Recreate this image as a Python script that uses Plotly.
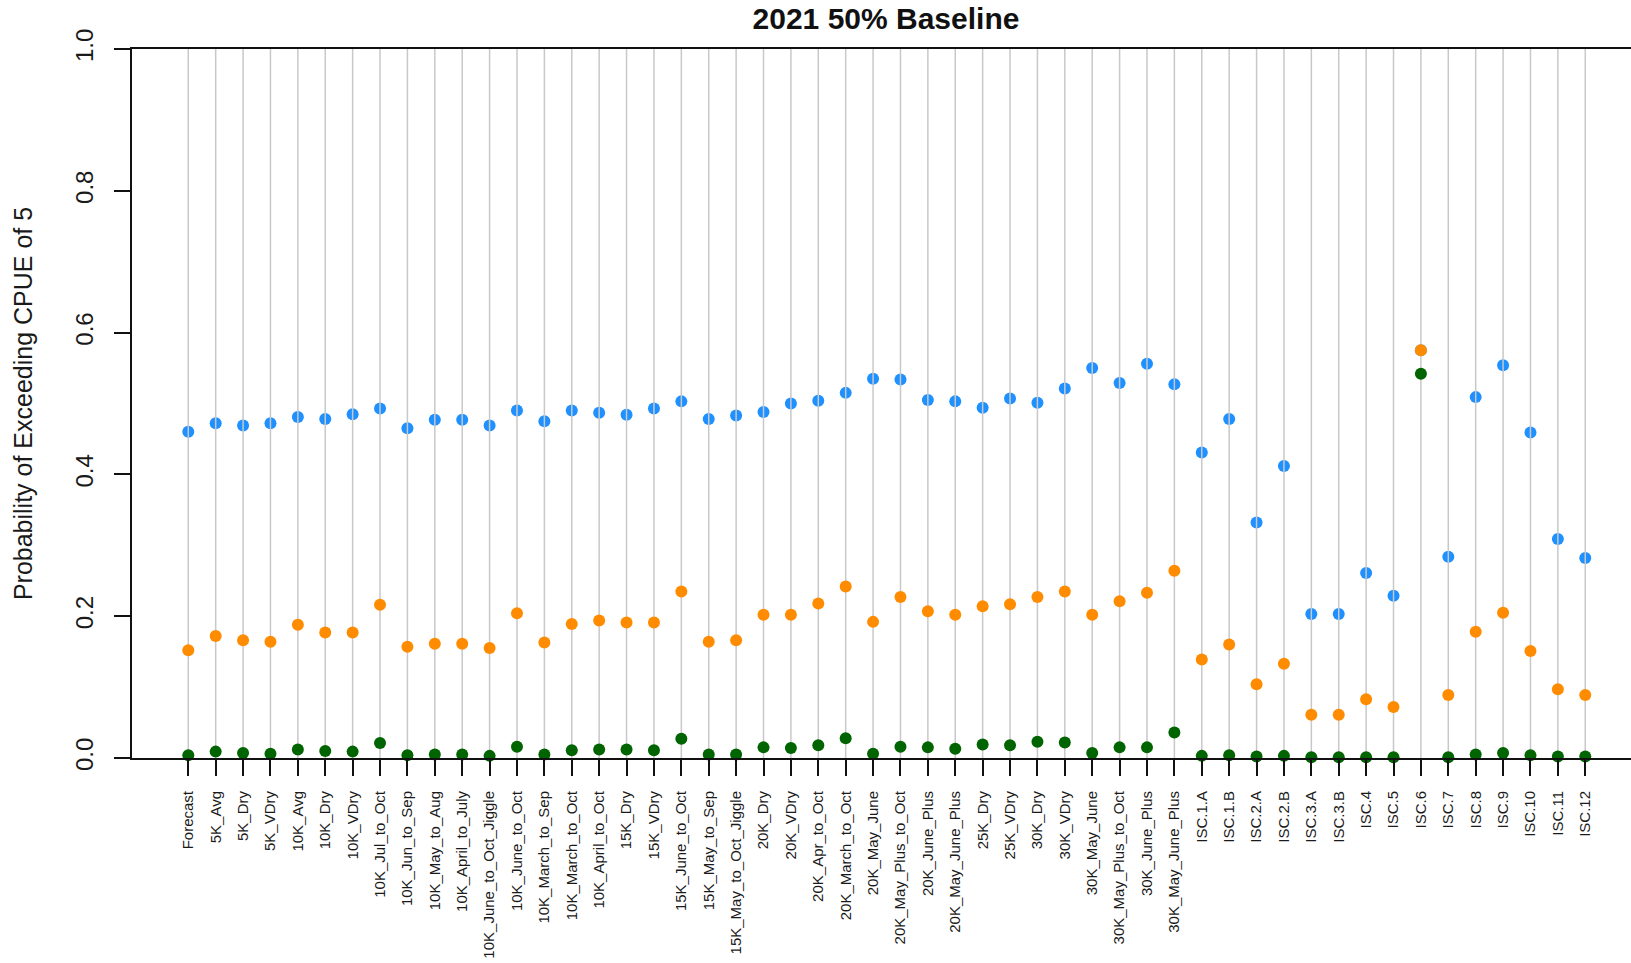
import plotly.graph_objects as go

categories = [
    "Forecast", "5K_Avg", "5K_Dry", "5K_VDry", "10K_Avg", "10K_Dry", "10K_VDry",
    "10K_Jul_to_Oct", "10K_Jun_to_Sep", "10K_May_to_Aug", "10K_April_to_July",
    "10K_June_to_Oct_Jiggle", "10K_June_to_Oct", "10K_March_to_Sep", "10K_March_to_Oct",
    "10K_April_to_Oct", "15K_Dry", "15K_VDry", "15K_June_to_Oct", "15K_May_to_Sep",
    "15K_May_to_Oct_Jiggle", "20K_Dry", "20K_VDry", "20K_Apr_to_Oct", "20K_March_to_Oct",
    "20K_May_June", "20K_May_Plus_to_Oct", "20K_June_Plus", "20K_May_June_Plus",
    "25K_Dry", "25K_VDry", "30K_Dry", "30K_VDry", "30K_May_June", "30K_May_Plus_to_Oct",
    "30K_June_Plus", "30K_May_June_Plus", "ISC.1.A", "ISC.1.B", "ISC.2.A", "ISC.2.B",
    "ISC.3.A", "ISC.3.B", "ISC.4", "ISC.5", "ISC.6", "ISC.7", "ISC.8", "ISC.9",
    "ISC.10", "ISC.11", "ISC.12",
]

blue_values = [
    0.460, 0.472, 0.469, 0.472, 0.481, 0.478, 0.485, 0.493, 0.465, 0.477, 0.477,
    0.469, 0.490, 0.475, 0.490, 0.487, 0.484, 0.493, 0.503, 0.478, 0.483,
    0.488, 0.500, 0.504, 0.515, 0.535, 0.534, 0.505, 0.503,
    0.494, 0.507, 0.501, 0.521, 0.550, 0.529, 0.556, 0.527,
    0.431, 0.478, 0.332, 0.412, 0.203, 0.203, 0.261, 0.229, 0.575, 0.284,
    0.509, 0.554, 0.459, 0.309, 0.282,
]

orange_values = [
    0.152, 0.172, 0.166, 0.164, 0.188, 0.177, 0.177, 0.216, 0.157, 0.161, 0.161,
    0.155, 0.204, 0.163, 0.189, 0.194, 0.191, 0.191, 0.235, 0.164, 0.166,
    0.202, 0.202, 0.218, 0.242, 0.192, 0.227, 0.207, 0.202,
    0.214, 0.217, 0.227, 0.235, 0.202, 0.221, 0.233, 0.264,
    0.139, 0.160, 0.104, 0.133, 0.061, 0.061, 0.083, 0.072, 0.575, 0.089,
    0.178, 0.205, 0.151, 0.097, 0.089,
]

green_values = [
    0.004, 0.009, 0.007, 0.006, 0.012, 0.010, 0.009, 0.021, 0.004, 0.005, 0.005,
    0.003, 0.016, 0.005, 0.011, 0.012, 0.012, 0.011, 0.027, 0.005, 0.005,
    0.015, 0.014, 0.018, 0.028, 0.006, 0.016, 0.015, 0.013,
    0.019, 0.018, 0.023, 0.022, 0.007, 0.015, 0.015, 0.036,
    0.003, 0.004, 0.002, 0.003, 0.001, 0.001, 0.001, 0.001, 0.542, 0.001,
    0.005, 0.007, 0.004, 0.002, 0.002,
]

y_ticks = [0.0, 0.2, 0.4, 0.6, 0.8, 1.0]
y_ticktext = ["0.0", "0.2", "0.4", "0.6", "0.8", "1.0"]

FONT = "Liberation Sans, Arial, Helvetica, sans-serif"

fig = go.Figure()

fig.add_trace(go.Scatter(
    x=categories, y=blue_values, mode="markers",
    marker=dict(color="#1E90FF", size=12, line=dict(width=0)),
    cliponaxis=False, showlegend=False,
))

# vertical guide lines (drawn over the blue points, beneath the others)
gx, gy = [], []
for c in categories:
    gx += [c, c, None]
    gy += [0, 1, None]
fig.add_trace(go.Scatter(
    x=gx, y=gy, mode="lines",
    line=dict(color="#C8C8C8", width=1.5),
    hoverinfo="skip", showlegend=False,
))

fig.add_trace(go.Scatter(
    x=categories, y=orange_values, mode="markers",
    marker=dict(color="#FF8C00", size=12, line=dict(width=0)),
    cliponaxis=False, showlegend=False,
))
fig.add_trace(go.Scatter(
    x=categories, y=green_values, mode="markers",
    marker=dict(color="#006400", size=12, line=dict(width=0)),
    cliponaxis=False, showlegend=False,
))

fig.update_layout(
    width=1631, height=963,
    margin=dict(l=132, r=0, t=49, b=205, autoexpand=False),
    paper_bgcolor="white", plot_bgcolor="white",
    font=dict(family=FONT, color="#1a1a1a"),
    title=dict(
        text="<b>2021 50% Baseline</b>",
        font=dict(family=FONT, size=30, color="#111111"),
        x=886 / 1631, xref="container", xanchor="center",
        y=1 - 18.5 / 963, yref="container", yanchor="middle",
        automargin=False,
    ),
    xaxis=dict(
        type="category",
        range=[-2.055, 52.67],
        automargin=False,
        showgrid=False, zeroline=False,
        showline=True, linecolor="#111111", linewidth=2, mirror=True,
        ticks="outside", ticklen=16, tickwidth=2, tickcolor="#111111",
        tickangle=-90, tickfont=dict(size=15, family=FONT, color="#1a1a1a"),
        ticklabelstandoff=9,
    ),
    yaxis=dict(
        range=[0, 1],
        automargin=False,
        tickvals=y_ticks, ticktext=y_ticktext,
        showgrid=False, zeroline=False,
        showline=True, linecolor="#111111", linewidth=2,
        ticks="outside", ticklen=16, tickwidth=2, tickcolor="#111111",
        tickangle=-90, tickfont=dict(size=24, family=FONT, color="#1a1a1a"),
        ticklabelstandoff=11,
        title=dict(text="Probability of Exceeding CPUE of 5",
                   font=dict(size=25, family=FONT, color="#1a1a1a"),
                   standoff=32),
    ),
)

fig.write_html(
    "out.html",
    config={"displayModeBar": False},
    post_script="document.body.style.margin='0';document.body.style.overflow='hidden';",
)
